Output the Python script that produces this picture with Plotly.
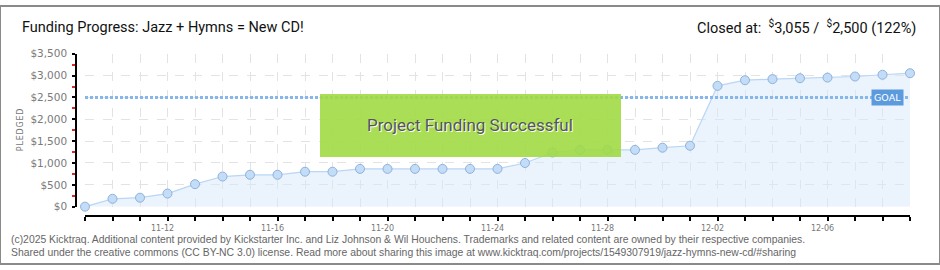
import plotly.graph_objects as go

# ---- data ----
dates = ["2024-11-09", "2024-11-10", "2024-11-11", "2024-11-12", "2024-11-13", "2024-11-14",
         "2024-11-15", "2024-11-16", "2024-11-17", "2024-11-18", "2024-11-19", "2024-11-20",
         "2024-11-21", "2024-11-22", "2024-11-23", "2024-11-24", "2024-11-25", "2024-11-26",
         "2024-11-27", "2024-11-28", "2024-11-29", "2024-11-30", "2024-12-01", "2024-12-02",
         "2024-12-03", "2024-12-04", "2024-12-05", "2024-12-06", "2024-12-07", "2024-12-08",
         "2024-12-09"]
pledged = [0, 180, 205, 300, 515, 690, 730, 730, 800, 800, 865, 865, 865, 865, 865, 865,
           1000, 1240, 1300, 1300, 1300, 1350, 1395, 2765, 2895, 2920, 2940, 2955, 2980,
           3020, 3055]
goal = 2500
y_ticks = [0, 500, 1000, 1500, 2000, 2500, 3000, 3500]
y_labels = ["$" + format(v, ",d") for v in y_ticks]

title_text = "Funding Progress: Jazz + Hymns = New CD!"
closed_text = ("Closed at:  <sup style='font-size:10px'>$</sup>3,055 /  "
               "<sup style='font-size:10px'>$</sup>2,500 (122%)")
footer1 = ("(c)2025 Kicktraq. Additional content provided by Kickstarter Inc. and Liz Johnson & "
           "Wil Houchens. Trademarks and related content are owned by their respective companies.")
footer2 = ("Shared under the creative commons (CC BY-NC 3.0) license. Read more about sharing this "
           "image at www.kicktraq.com/projects/1549307919/jazz-hymns-new-cd/#sharing")

W, H = 940, 270
def px(x):
    return x / W
def py(y):
    return 1 - y / H

DAY = 86400000

fig = go.Figure()
fig.add_trace(go.Scatter(
    x=dates, y=pledged, mode="lines+markers", fill="tozeroy",
    fillcolor="rgba(215,232,250,0.5)",
    line=dict(color="#b9d6f5", width=1.2),
    marker=dict(size=9, color="#c3ddf8", line=dict(color="#8fb1da", width=1)),
    cliponaxis=False, showlegend=False, hoverinfo="x+y"))
fig.add_trace(go.Scatter(
    x=[dates[0], dates[-1]], y=[goal, goal], mode="lines",
    line=dict(color="#86b6ea", width=3, dash="3px,2px"),
    showlegend=False, hoverinfo="skip"))

fig.update_layout(
    width=W, height=H, margin=dict(l=0, r=0, t=0, b=0),
    paper_bgcolor="white", plot_bgcolor="white",
    xaxis=dict(
        type="date", domain=[px(85), px(910)], range=[dates[0], dates[-1]],
        anchor="free", position=py(220),
        showline=True, linecolor="black", linewidth=2,
        ticks="outside", ticklen=4, tickwidth=1.5, tickcolor="black",
        tick0="2024-11-12", dtick=4 * DAY, tickformat="%m-%d",
        tickfont=dict(family="DejaVu Sans", size=8, color="#777"),
        ticklabelshift=-5, ticklabelstandoff=0,
        showgrid=True, gridcolor="#e3e3e3", griddash="dash", gridwidth=1,
        minor=dict(dtick=DAY, ticks="outside", ticklen=4, tickwidth=1.5, tickcolor="black",
                   showgrid=True, gridcolor="#e3e3e3", griddash="dash", gridwidth=1),
        zeroline=False, fixedrange=True),
    yaxis=dict(
        domain=[py(210), py(50)], range=[0, 3500],
        anchor="free", position=px(76),
        showline=True, linecolor="black", linewidth=1.5,
        tickvals=y_ticks, ticktext=y_labels,
        ticks="outside", ticklen=3, tickwidth=1.5, tickcolor="black",
        tickfont=dict(family="DejaVu Sans", size=10.5, color="#7a7a7a"),
        ticklabelstandoff=3,
        showgrid=True, gridcolor="#e3e3e3", griddash="dash", gridwidth=1,
        minor=dict(dtick=250, ticks="outside", ticklen=3, tickwidth=1.5, tickcolor="#e0262a",
                   showgrid=False),
        zeroline=False, fixedrange=True),
)

shapes = [
    dict(type="rect", xref="paper", yref="paper", x0=px(320), x1=px(621), y0=py(158), y1=py(92),
         fillcolor="rgba(160,218,68,0.9)", line=dict(width=0), layer="above"),
    dict(type="rect", xref="paper", yref="paper", x0=0, x1=1, y0=0, y1=1,
         line=dict(color="#8a8a8a", width=2), fillcolor="rgba(0,0,0,0)", layer="above"),
]
fig.update_layout(shapes=shapes)

ann = [
    dict(text=title_text, xref="paper", yref="paper", x=px(20), y=py(22),
         xanchor="left", yanchor="middle", showarrow=False,
         font=dict(family="Roboto", size=14.5, color="#111")),
    dict(text=closed_text, xref="paper", yref="paper", x=px(918), y=py(22),
         xanchor="right", yanchor="middle", showarrow=False,
         font=dict(family="Roboto", size=14.5, color="#111")),
    dict(text="Project Funding Successful", xref="paper", yref="paper", x=px(470), y=py(125),
         xanchor="center", yanchor="middle", showarrow=False,
         font=dict(family="Roboto", size=17, color="#555",
                   shadow="1px 1px 0px white")),
    dict(text="GOAL", x=dates[-1], y=goal, xref="x", yref="y",
         xanchor="right", yanchor="middle", xshift=-6, showarrow=False,
         bgcolor="#5b9bdd", borderpad=2,
         font=dict(family="DejaVu Sans", size=9.5, color="white")),
    dict(text="P\u200aL\u200aE\u200aD\u200aG\u200aE\u200aD", xref="paper", yref="paper",
         x=px(20), y=py(130), textangle=-90, showarrow=False,
         xanchor="center", yanchor="middle",
         font=dict(family="DejaVu Sans", size=8, color="#777")),
    dict(text=footer1, xref="paper", yref="paper", x=px(10), y=py(244),
         xanchor="left", yanchor="middle", showarrow=False, borderpad=0,
         font=dict(family="Liberation Sans", size=10.4, color="#666")),
    dict(text=footer2, xref="paper", yref="paper", x=px(10), y=py(257.5),
         xanchor="left", yanchor="middle", showarrow=False, borderpad=0,
         font=dict(family="Liberation Sans", size=10.4, color="#666")),
]
fig.update_layout(annotations=ann)

fig.write_html("out.html")
